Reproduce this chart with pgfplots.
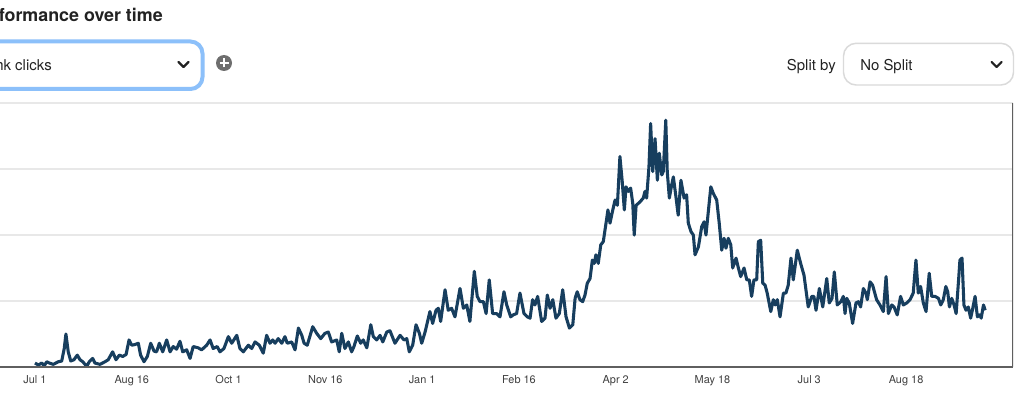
\documentclass[border=0pt]{standalone}
\usepackage{pgfplots}
\pgfplotsset{compat=1.18}
\usepackage{fontspec}
\setmainfont{TeX Gyre Heros}
\definecolor{navy}{RGB}{23,62,94}
\definecolor{gridc}{RGB}{232,232,232}
\definecolor{axisc}{RGB}{95,95,95}
\definecolor{ringc}{RGB}{140,192,250}
\definecolor{boxc}{RGB}{218,218,218}
\definecolor{iconc}{RGB}{110,110,110}
\definecolor{txt}{RGB}{34,34,34}
\begin{document}
\begin{tikzpicture}[x=0.75pt,y=0.75pt]
\useasboundingbox (0,0) rectangle (1024,397);
\clip (0,0) rectangle (1024,397);
\fill[white] (0,0) rectangle (1024,397);
% header
\node[anchor=base east, inner sep=0pt, text=txt, font=\fontsize{13.4pt}{16pt}\selectfont\bfseries] at (163,375.5) {Performance over time};
\draw[ringc, line width=3pt, rounded corners=9pt] (-20,308) rectangle (202.5,355.5);
\node[anchor=base east, inner sep=0pt, text=txt, font=\fontsize{11.2pt}{13pt}\selectfont] at (52,326.3) {Link clicks};
\draw[txt, line width=1.6pt, line cap=round, line join=round] (178.5,335) -- (183.5,330) -- (188.5,335);
\fill[iconc] (224,334) circle[radius=6pt];
\draw[white, line width=1.5pt] (219.5,334) -- (228.5,334) (224,329.5) -- (224,338.5);
\node[anchor=base west, inner sep=0pt, text=txt, font=\fontsize{11.2pt}{13pt}\selectfont] at (786.7,326.3) {Split by};
\draw[boxc, line width=1.1pt, rounded corners=9.5pt] (843.5,312) rectangle (1013.5,353.7);
\node[anchor=base west, inner sep=0pt, text=txt, font=\fontsize{11.2pt}{13pt}\selectfont] at (860,326.3) {No Split};
\draw[txt, line width=1.6pt, line cap=round, line join=round] (991.7,335) -- (996.7,330) -- (1001.7,335);
% chart
\begin{axis}[
  at={(0pt,22.5pt)}, anchor=south west,
  scale only axis, width=759.75pt, height=198pt,
  xmin=-16.63, xmax=464.83, ymin=0, ymax=400,
  enlargelimits=false,
  axis line style={draw=none},
  ytick={100,200,300,400}, yticklabels={},
  ymajorgrids, grid style={color=gridc, line width=0.9pt},
  xtick={0,46,92,138,184,230,276,322,368,414},
  xticklabels={Jul 1,Aug 16,Oct 1,Nov 16,Jan 1,Feb 16,Apr 2,May 18,Jul 3,Aug 18},
  major tick length=0pt,
  xticklabel style={font=\fontsize{8.2pt}{9.8pt}\selectfont, text=black!75, anchor=base, yshift=-12.2pt},
]
\addplot[navy, line width=2.3pt, line join=round, mark=none] coordinates {
(0,6)(1.6,3)(3.2,6)(4.4,2)(5.6,8)(6.8,6)(8.7,4)(11.1,8)(12.7,9)(13.9,28)(14.7,50)(15.8,23)(17,9)(18.5,11)(20.1,18)(21.4,11)(22.7,8)(24.6,1)(25.8,8)(27.4,13)(28.5,6)(30.9,4)(33.3,8)(34.8,11)(36.9,23)(38.5,11)(40.1,18)(41.7,16)(43.3,19)(44.7,41)(46,33)(47.5,34)(49.1,36)(50.2,18)(51.8,8)(53.4,16)(55,36)(56.6,24)(57.8,23)(59.1,36)(60.7,23)(62.6,41)(64.2,23)(65.7,31)(67.3,27)(68.9,39)(70.2,23)(72.1,26)(73.7,13)(75.2,31)(77.6,29)(79.2,26)(81.6,33)(83.2,41)(84.7,28)(86.6,31)(87.9,23)(89.8,28)(91.9,46)(93.5,36)(95.9,48)(97.4,28)(99,23)(101.4,33)(103,28)(104.6,38)(106.6,33)(108.5,21)(110.1,48)(111.7,36)(113,41)(114.1,36)(115.6,43)(117.3,36)(118.8,46)(119.9,36)(122,38)(123.6,26)(125.2,59)(126.8,48)(127.9,36)(129.4,33)(132,61)(133.9,51)(135.8,43)(137.8,51)(139.4,53)(141,38)(143.4,41)(144.6,23)(145.8,51)(147.3,28)(148.9,38)(150.5,23)(151.6,31)(153.2,47)(154.8,36)(156,41)(157.7,29)(159.6,64)(160.8,46)(162.4,41)(164,48)(165.3,38)(167.2,53)(168.7,55)(171.1,36)(173.5,48)(175.4,41)(176.7,43)(177.9,23)(179.5,33)(181.1,64)(182.7,51)(183.8,36)(185.4,53)(187.7,84)(189,66)(190.6,86)(191.7,89)(192.8,69)(194.9,117)(196.4,86)(198,89)(199.6,76)(202,119)(203.6,89)(205.2,94)(206.7,69)(208.8,145)(210.2,107)(211.5,99)(213.1,99)(214.4,81)(215.9,132)(217.5,81)(219.4,81)(221,76)(222.9,114)(224.2,94)(226.1,76)(227.3,79)(228.9,81)(230.5,112)(232.4,81)(234,76)(235.3,74)(236.5,102)(237.6,94)(238.9,107)(240.8,69)(242.4,74)(243.5,109)(244.8,89)(246.1,102)(247.6,74)(249.2,81)(250.8,117)(252.4,76)(254,59)(255.6,64)(256.7,104)(257.7,114)(259,102)(260.3,99)(261.4,109)(262.5,127)(263.8,134)(264.9,162)(265.8,157)(266.6,170)(267.7,157)(268.9,185)(270.1,190)(271.4,218)(272.3,238)(273.3,218)(274.4,235)(275.7,253)(276.8,245)(278,319)(279.1,281)(280.1,238)(280.9,273)(282,266)(283.1,271)(284.1,248)(284.8,200)(285.7,245)(287.5,250)(289.1,256)(289.9,266)(290.7,256)(291.8,303)(292.6,369)(293.6,296)(294.7,346)(295.8,283)(296.7,324)(297.9,291)(298.6,296)(299.8,374)(300.5,296)(301.5,256)(302.6,276)(303.4,288)(304.7,256)(305.7,230)(307,283)(308.5,256)(309.7,261)(310.5,218)(311.8,205)(312.9,200)(313.7,170)(315.3,182)(316.9,213)(318,220)(318.9,200)(321.2,273)(322.4,263)(324,253)(325.2,218)(326.4,177)(327.5,195)(328.4,180)(329.5,195)(330.7,185)(331.6,150)(333.2,165)(334.3,150)(335.4,137)(337,150)(338.3,132)(339.5,132)(340.6,107)(341.7,132)(343,132)(343.8,190)(344.9,192)(345.9,127)(347,124)(348,112)(349.7,84)(350.9,102)(351.8,94)(352.8,102)(354.1,76)(355.7,112)(356.9,112)(358,124)(359.3,165)(360.4,132)(362.3,177)(363.9,157)(365.5,139)(367.5,91)(369.2,107)(370.2,107)(371.2,86)(372.8,119)(374.4,91)(376.3,134)(377.5,97)(378.8,104)(379.9,144)(381.3,94)(383,99)(384.2,107)(385,81)(385.8,104)(387,97)(388.6,66)(390.2,97)(391.3,99)(392.4,91)(393.7,119)(394.9,112)(395.6,102)(396.9,129)(398.1,124)(400,102)(401.6,94)(403.2,84)(404.5,137)(405.6,81)(407.2,94)(408.3,91)(409.8,79)(411.4,107)(412.7,94)(414.3,97)(415.9,102)(417.4,112)(418.7,162)(419.8,112)(420.9,122)(422.2,97)(423.5,84)(425,142)(426.2,107)(427.8,107)(429.4,104)(430.5,94)(431.7,102)(432.9,122)(433.8,114)(434.6,91)(435.7,104)(436.8,94)(437.8,81)(438.9,129)(439.6,162)(440.6,165)(441.5,94)(442.5,86)(443.6,91)(444.7,74)(445.7,89)(446.8,107)(447.9,76)(448.9,79)(449.7,74)(450.8,94)(451.6,86)
};
\draw[axisc, line width=1.1pt] (rel axis cs:0,0) -- (rel axis cs:1,0);
\draw[axisc, line width=1.1pt] (rel axis cs:1,0) -- (rel axis cs:1,1);
\end{axis}
\end{tikzpicture}
\end{document}
